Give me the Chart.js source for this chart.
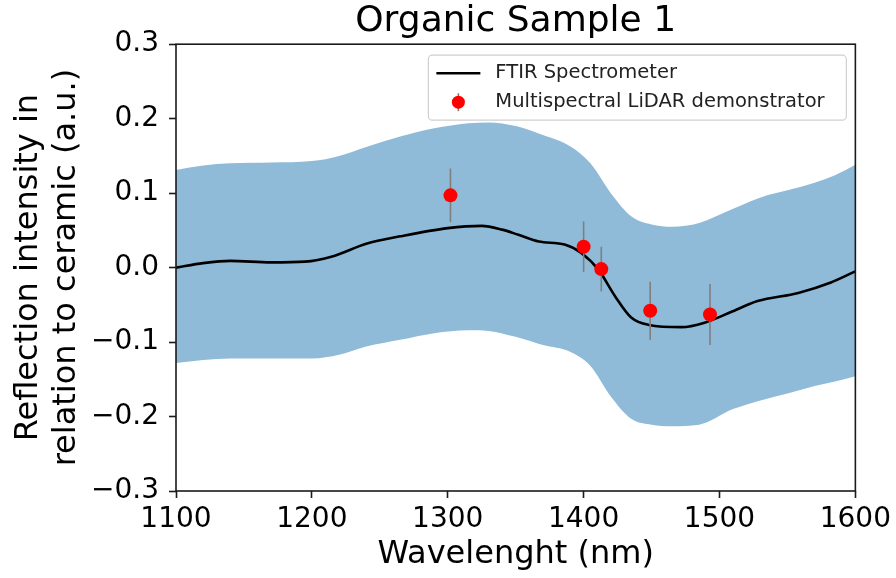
<!DOCTYPE html>
<html>
<head>
<meta charset="utf-8">
<style>
  html, body { margin: 0; padding: 0; background: #ffffff; }
  #wrap { width: 896px; height: 578px; }
</style>
<script src="https://cdn.jsdelivr.net/npm/chart.js@4"></script>
</head>
<body>
<div id="wrap"><canvas id="chart" width="896" height="578"></canvas></div>
<script>
// FTIR spectrometer reference curve
const ftirWavelength = [1100, 1120, 1140, 1170, 1195, 1215, 1240, 1265, 1300, 1325, 1340, 1352, 1367, 1386, 1398, 1411, 1423, 1435, 1448, 1472, 1489, 1508, 1528, 1558, 1582, 1600];
const ftirValue      = [0.000, 0.006, 0.009, 0.007, 0.008, 0.015, 0.032, 0.042, 0.053, 0.056, 0.051, 0.044, 0.035, 0.031, 0.020, -0.003, -0.038, -0.067, -0.077, -0.080, -0.074, -0.060, -0.045, -0.034, -0.020, -0.005];

// Uncertainty band around the FTIR curve
const bandWavelength = [1100, 1120, 1140, 1170, 1200, 1220, 1240, 1265, 1290, 1315, 1330, 1350, 1370, 1390, 1405, 1420, 1435, 1450, 1465, 1485, 1510, 1535, 1550, 1570, 1585, 1600];
const bandUpper      = [0.131, 0.137, 0.140, 0.141, 0.143, 0.150, 0.162, 0.176, 0.187, 0.194, 0.195, 0.190, 0.178, 0.163, 0.140, 0.100, 0.069, 0.058, 0.055, 0.060, 0.079, 0.097, 0.104, 0.114, 0.124, 0.138];
const bandLower      = [-0.128, -0.124, -0.122, -0.122, -0.122, -0.117, -0.106, -0.097, -0.088, -0.084, -0.085, -0.093, -0.104, -0.113, -0.132, -0.173, -0.203, -0.211, -0.213, -0.211, -0.190, -0.176, -0.169, -0.159, -0.153, -0.146];

// Multispectral LiDAR measurements with their error bars
const lidarWavelength = [1302, 1400, 1413, 1449, 1493];
const lidarValue      = [0.097, 0.028, -0.002, -0.058, -0.063];
const lidarError      = [0.036, 0.034, 0.030, 0.039, 0.041];

// Axis ticks
const xTicks = [1100, 1200, 1300, 1400, 1500, 1600];
const yTicks = [-0.3, -0.2, -0.1, 0.0, 0.1, 0.2, 0.3];

const FONT = "'DejaVu Sans', 'Liberation Sans', sans-serif";
const BAND_COLOR = '#8fbbd9';

const pts = (xs, ys) => xs.map((x, i) => ({ x: x, y: ys[i] }));

const fmtY = v => {
  const r = Math.round(v * 10) / 10;
  return (r < 0 ? '\u2212' : '') + Math.abs(r).toFixed(1);
};

// Vertical error bars, drawn just beneath the LiDAR markers
const errorBars = {
  id: 'errorBars',
  beforeDatasetDraw(chart, args) {
    if (args.index !== 0) return;
    const { ctx, scales: { x, y } } = chart;
    ctx.save();
    ctx.strokeStyle = '#7f7f7f';
    ctx.lineWidth = 1.6;
    lidarWavelength.forEach((w, i) => {
      const px = x.getPixelForValue(w);
      ctx.beginPath();
      ctx.moveTo(px, y.getPixelForValue(lidarValue[i] + lidarError[i]));
      ctx.lineTo(px, y.getPixelForValue(lidarValue[i] - lidarError[i]));
      ctx.stroke();
    });
    ctx.restore();
  }
};

// Frame around the plotting area
const frame = {
  id: 'frame',
  afterDatasetsDraw(chart) {
    const { ctx, chartArea: a } = chart;
    ctx.save();
    ctx.strokeStyle = '#1a1a1a';
    ctx.lineWidth = 1.6;
    ctx.strokeRect(a.left, a.top, a.right - a.left, a.bottom - a.top);
    ctx.restore();
  }
};

// Legend box in the upper right corner of the plot
const legendBox = {
  id: 'legendBox',
  afterDraw(chart) {
    const { ctx, chartArea: a } = chart;
    const right = a.right - 9, top = a.top + 11;
    const w = 418, h = 65;
    const left = right - w;
    ctx.save();
    ctx.beginPath();
    ctx.roundRect(left, top, w, h, 4);
    ctx.fillStyle = 'rgba(255,255,255,0.8)';
    ctx.fill();
    ctx.strokeStyle = '#d0d0d0';
    ctx.lineWidth = 1.2;
    ctx.stroke();

    const row1 = top + 18, row2 = top + 47;
    // line sample
    ctx.strokeStyle = '#000000';
    ctx.lineWidth = 2.6;
    ctx.beginPath();
    ctx.moveTo(left + 8, row1);
    ctx.lineTo(left + 52, row1);
    ctx.stroke();
    // marker sample with its error bar
    const mx = left + 30;
    ctx.strokeStyle = '#7f7f7f';
    ctx.lineWidth = 1.6;
    ctx.beginPath();
    ctx.moveTo(mx, row2 - 9);
    ctx.lineTo(mx, row2 + 9);
    ctx.stroke();
    ctx.fillStyle = '#ff0000';
    ctx.beginPath();
    ctx.arc(mx, row2, 6.5, 0, Math.PI * 2);
    ctx.fill();

    ctx.fillStyle = '#222222';
    ctx.font = '19.5px ' + FONT;
    ctx.textBaseline = 'middle';
    ctx.textAlign = 'left';
    ctx.fillText('FTIR Spectrometer', left + 67, row1);
    ctx.fillText('Multispectral LiDAR demonstrator', left + 67, row2);
    ctx.restore();
  }
};

new Chart(document.getElementById('chart'), {
  type: 'line',
  data: {
    datasets: [
      {
        label: 'Multispectral LiDAR demonstrator',
        data: pts(lidarWavelength, lidarValue),
        showLine: false,
        pointRadius: 7,
        pointBackgroundColor: '#ff0000',
        pointBorderWidth: 0,
        borderColor: '#ff0000'
      },
      {
        label: 'FTIR Spectrometer',
        data: pts(ftirWavelength, ftirValue),
        borderColor: '#000000',
        borderWidth: 2.6,
        pointRadius: 0,
        cubicInterpolationMode: 'monotone',
        fill: false
      },
      {
        label: 'upper',
        data: pts(bandWavelength, bandUpper),
        borderWidth: 0,
        borderColor: BAND_COLOR,
        pointRadius: 0,
        cubicInterpolationMode: 'monotone',
        fill: false
      },
      {
        label: 'lower',
        data: pts(bandWavelength, bandLower),
        borderWidth: 0,
        borderColor: BAND_COLOR,
        backgroundColor: BAND_COLOR,
        pointRadius: 0,
        cubicInterpolationMode: 'monotone',
        fill: '-1'
      }
    ]
  },
  options: {
    responsive: false,
    animation: false,
    devicePixelRatio: 1,
    layout: { padding: { left: 0, right: 39, top: 0, bottom: 0 } },
    plugins: {
      legend: { display: false },
      tooltip: { enabled: false },
      title: {
        display: true,
        text: 'Organic Sample 1',
        fullSize: false,
        color: '#000000',
        font: { family: FONT, size: 36, weight: 'normal', lineHeight: 1.2 },
        padding: { top: 0, bottom: 1 }
      }
    },
    scales: {
      x: {
        type: 'linear',
        min: 1100,
        max: 1600,
        afterFit(scale) { scale.height = 87; },
        afterBuildTicks(scale) { scale.ticks = xTicks.map(v => ({ value: v })); },
        grid: { display: true, drawOnChartArea: false, drawTicks: true, tickLength: 7, tickWidth: 1.6, tickColor: '#1a1a1a' },
        border: { display: false },
        ticks: {
          autoSkip: false,
          maxRotation: 0,
          padding: 5,
          color: '#000000',
          font: { family: FONT, size: 28 },
          callback: v => String(v)
        },
        title: {
          display: true,
          text: 'Wavelenght (nm)',
          color: '#000000',
          font: { family: FONT, size: 32, lineHeight: 1.2 },
          padding: { top: 0, bottom: 4 }
        }
      },
      y: {
        type: 'linear',
        min: -0.3,
        max: 0.3,
        afterFit(scale) { scale.width = 176; },
        afterBuildTicks(scale) { scale.ticks = yTicks.map(v => ({ value: v })); },
        grid: { display: true, drawOnChartArea: false, drawTicks: true, tickLength: 7, tickWidth: 1.6, tickColor: '#1a1a1a' },
        border: { display: false },
        ticks: {
          autoSkip: false,
          padding: 10,
          color: '#000000',
          font: { family: FONT, size: 28 },
          callback: v => fmtY(v)
        },
        title: {
          display: true,
          text: ['Reflection intensity in', 'relation to ceramic (a.u.)'],
          color: '#000000',
          font: { family: FONT, size: 32, lineHeight: 1.2 },
          padding: { top: 9, bottom: 0 }
        }
      }
    }
  },
  plugins: [errorBars, frame, legendBox]
});
</script>
</body>
</html>
